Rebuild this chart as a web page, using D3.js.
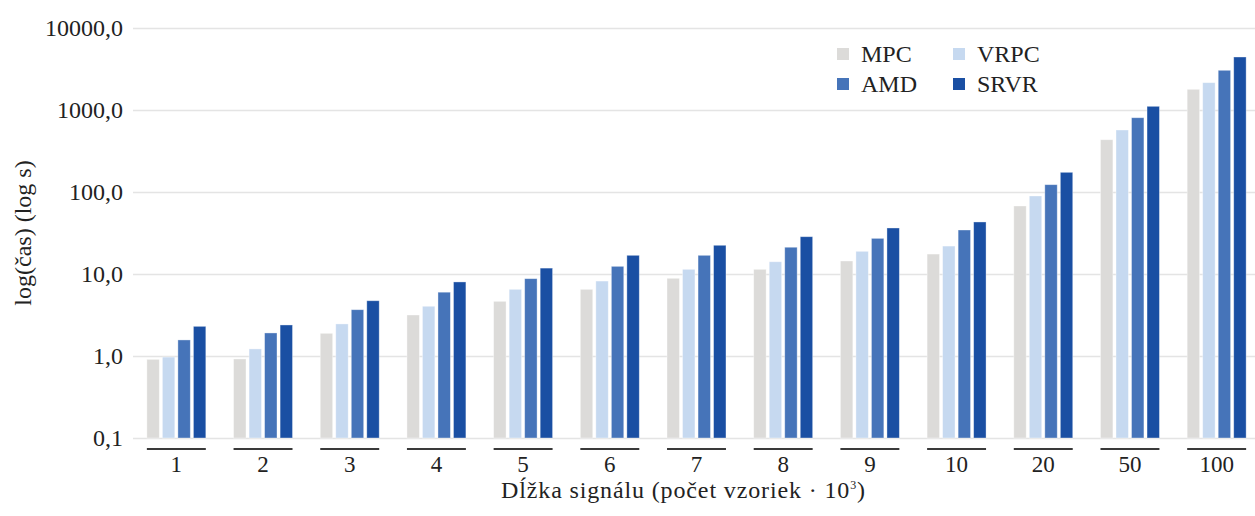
<!DOCTYPE html>
<html>
<head>
<meta charset="utf-8">
<script src="https://cdn.jsdelivr.net/npm/d3@7"></script>
<style>
  body { margin: 0; background: #fff; }
  text { font-family: "Liberation Serif", "Times New Roman", serif; fill: #222; }
</style>
</head>
<body>
<div id="chart"></div>
<script>
let categories = ["1", "2", "3", "4", "5", "6", "7", "8", "9", "10", "20", "50", "100"];
let seriesNames = ["MPC", "VRPC", "AMD", "SRVR"];
let mpc  = [0.91, 0.92, 1.89, 3.16, 4.64, 6.5, 8.86, 11.4, 14.4, 17.5, 67.5, 434, 1787];
let vrpc = [0.97, 1.22, 2.46, 4.04, 6.5, 8.2, 11.4, 14.1, 18.9, 21.9, 89.4, 570, 2154];
let amd  = [1.57, 1.91, 3.67, 6.0, 8.77, 12.4, 16.9, 21.2, 27.2, 34.4, 122.8, 805, 3049];
let srvr = [2.30, 2.39, 4.72, 8.0, 11.8, 16.9, 22.4, 28.5, 36.4, 43.1, 173.8, 1109, 4430];
let yTicks = [0.1, 1, 10, 100, 1000, 10000];

let colors = {MPC: "#dcdbd9", VRPC: "#c6d9f0", AMD: "#4674b9", SRVR: "#1a4fa3"};
let values = {MPC: mpc, VRPC: vrpc, AMD: amd, SRVR: srvr};

let W = 1255, H = 516;
let svg = d3.select("#chart").append("svg")
    .attr("width", W)
    .attr("height", H);

let x = d3.scaleBand().domain(categories).range([133, 1260]).paddingInner(0.32).paddingOuter(0.16);
let xs = d3.scaleBand().domain(seriesNames).range([0, x.bandwidth()]).paddingInner(0.2);
let y = d3.scaleLog().domain([0.1, 10000]).range([438, 28]);

let locale = d3.formatLocale({decimal: ",", thousands: "", grouping: [3], currency: ["", ""]});
let fmt = locale.format(".1f");

// grid
svg.append("g").selectAll("line")
    .data(yTicks)
    .enter().append("line")
    .attr("x1", 133).attr("x2", W)
    .attr("y1", d => Math.round(y(d)) + 0.5).attr("y2", d => Math.round(y(d)) + 0.5)
    .style("stroke", "#e4e4e4").style("stroke-width", 1.5);

// y axis labels
let yAxis = d3.axisLeft(y).tickValues(yTicks).tickFormat(fmt).tickSize(0).tickPadding(0);
let gy = svg.append("g").attr("transform", "translate(123,0)").call(yAxis);
gy.select(".domain").remove();
gy.selectAll("text")
    .style("font-family", '"Liberation Serif", serif')
    .style("font-size", "24px")
    .style("fill", "#222")
    .attr("dy", "0.32em");

// bars
let groups = svg.append("g").selectAll("g.grp")
    .data(categories)
    .enter().append("g")
    .attr("class", "grp")
    .attr("transform", d => `translate(${x(d)},0)`);

groups.selectAll("rect")
    .data((c, i) => seriesNames.map(s => ({s: s, v: values[s][i]})))
    .enter().append("rect")
    .attr("x", d => xs(d.s))
    .attr("width", xs.bandwidth())
    .attr("y", d => y(d.v))
    .attr("height", d => y(0.1) - y(d.v))
    .style("fill", d => colors[d.s])
    .style("stroke", "#ffffff")
    .style("stroke-opacity", 0.45)
    .style("stroke-width", 0.8);

// group underline + labels
groups.append("line")
    .attr("x1", 0).attr("x2", x.bandwidth())
    .attr("y1", 449).attr("y2", 449)
    .style("stroke", "#3a3a3a").style("stroke-width", 2);

groups.append("text")
    .attr("x", x.bandwidth() / 2)
    .attr("y", 472)
    .attr("text-anchor", "middle")
    .style("font-size", "23px")
    .text(d => d);

// x title
let xt = svg.append("text")
    .attr("x", 501).attr("y", 498)
    .attr("textLength", 364)
    .attr("lengthAdjust", "spacing")
    .style("font-size", "24px");
xt.append("tspan").text("Dĺžka signálu (počet vzoriek · 10");
xt.append("tspan").attr("dy", -9).style("font-size", "12px").text("3");
xt.append("tspan").attr("dy", 9).text(")");

// y title
svg.append("text")
    .attr("transform", "translate(31,233) rotate(-90)")
    .attr("text-anchor", "middle")
    .style("font-size", "24px")
    .text("log(čas) (log s)");

// legend
let legendPos = [[837, 48], [953, 48], [837, 78], [953, 78]];
let lg = svg.append("g").selectAll("g")
    .data(seriesNames)
    .enter().append("g")
    .attr("transform", (d, i) => `translate(${legendPos[i][0]},${legendPos[i][1]})`);
lg.append("rect")
    .attr("width", 12).attr("height", 12)
    .style("fill", d => colors[d]);
lg.append("text")
    .attr("x", 24).attr("y", 14)
    .style("font-size", "24px")
    .text(d => d);
</script>
</body>
</html>
